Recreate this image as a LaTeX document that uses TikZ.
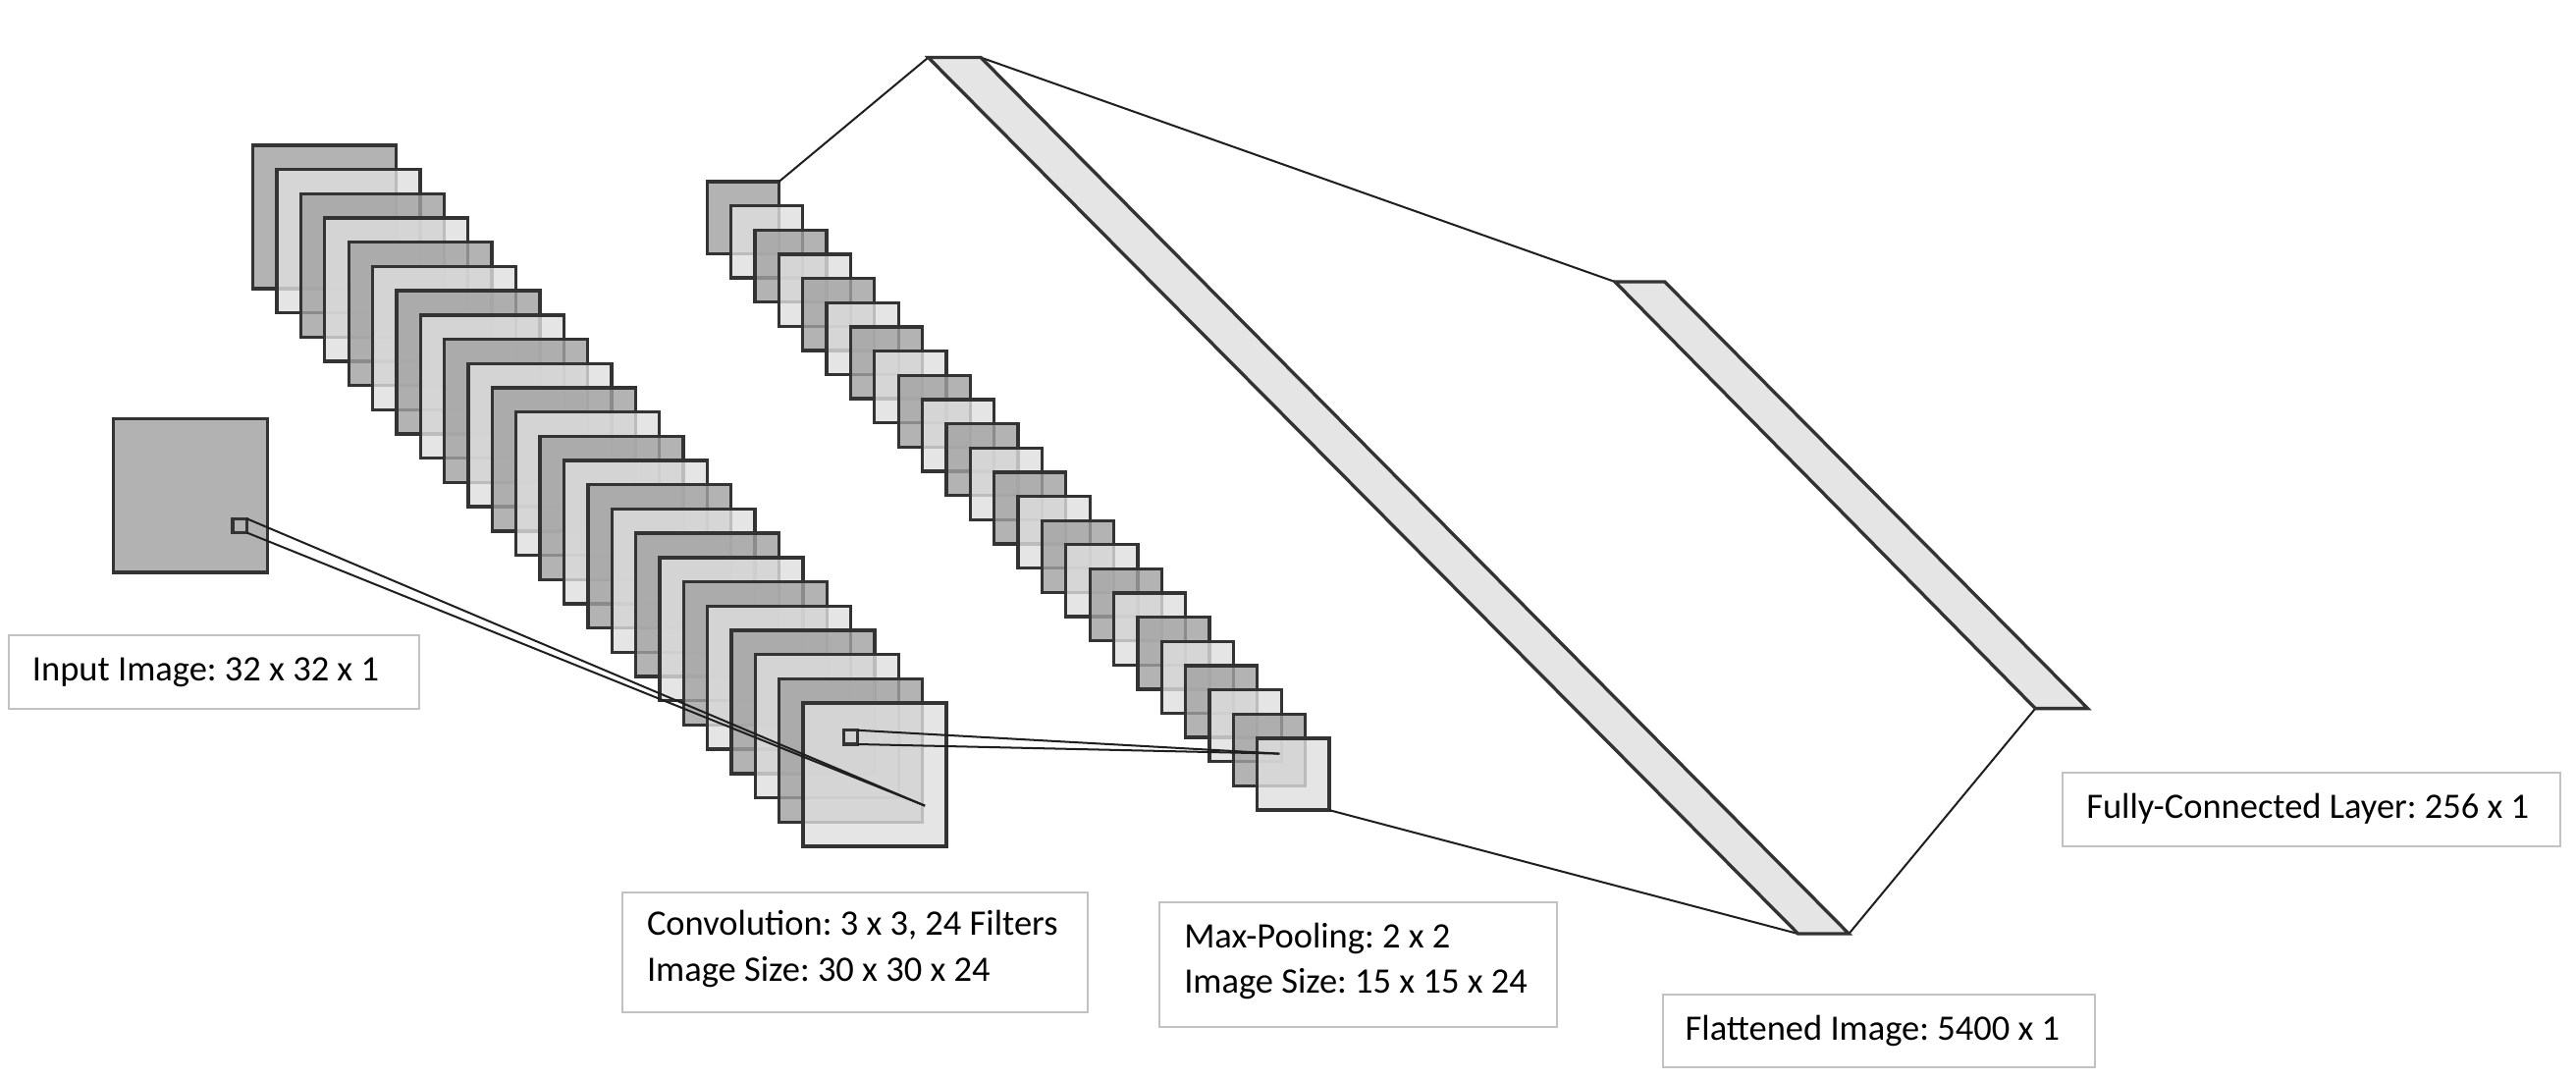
\documentclass[tikz,border=0pt]{standalone}
\usepackage{fontspec}
\setmainfont{Carlito}
\frenchspacing
\definecolor{bord}{gray}{0.2}
\definecolor{sqdark}{gray}{0.63}
\definecolor{sqlight}{gray}{0.875}
\definecolor{inputfill}{gray}{0.70}
\definecolor{barfill}{gray}{0.90}
\definecolor{lblbord}{gray}{0.76}
\definecolor{connc}{gray}{0.12}
\begin{document}
\begin{tikzpicture}[x=0.5pt,y=-0.5pt,
  sqbase/.style={draw=bord, line width=1pt, inner sep=0pt, outer sep=0pt},
  convsq/.style={sqbase, minimum size=43.6pt, fill opacity=0.8},
  poolsq/.style={sqbase, minimum size=21.85pt, fill opacity=0.8},
  inputsq/.style={sqbase, minimum size=46.75pt, fill=inputfill},
  smallsq/.style={sqbase, minimum size=4.25pt},
  conn/.style={draw=connc, line width=0.6pt},
  barshape/.style={draw=bord, line width=1pt, fill=barfill, line join=miter},
  lblbox/.style={draw=lblbord, line width=0.6pt, inner sep=0pt},
  lbltext/.style={anchor=west, inner sep=0pt, align=left,
    font=\fontsize{10.9}{14}\selectfont, text=black}
  ]
\useasboundingbox[fill=white] (0,0) rectangle (1568,657);

% input image
\node[inputsq] (inp) at (115.9,301.7) {};
\node[smallsq] (s1) at (145.9,319.9) {};

% convolution stack
\foreach \i in {1,...,24}{
  \pgfmathsetmacro\cx{197.6+14.56*(\i-1)}
  \pgfmathsetmacro\cy{132.0+14.76*(\i-1)}
  \ifodd\i\def\fc{sqdark}\else\def\fc{sqlight}\fi
  \node[convsq, fill=\fc] (c\i) at (\cx,\cy) {};
}

% max-pooling stack
\foreach \i in {1,...,24}{
  \pgfmathsetmacro\cx{452.2+14.565*(\i-1)}
  \pgfmathsetmacro\cy{132.5+14.726*(\i-1)}
  \ifodd\i\def\fc{sqdark}\else\def\fc{sqlight}\fi
  \node[poolsq, fill=\fc] (p\i) at (\cx,\cy) {};
}

% small square on the last convolution map
\node[smallsq] (s2) at (517.7,448.7) {};

% end points of the receptive-field connectors
\coordinate (e1) at (563,490.4);
\coordinate (e2) at (778.8,458.7);

\draw[conn] (s1.north east) -- (e1);
\draw[conn] (s1.south east) -- (e1);
\draw[conn] (s2.north east) -- (e2);
\draw[conn] (s2.south east) -- (e2);

% flattened bar
\coordinate (ftl) at (565,35);
\coordinate (ftr) at (597,35);
\coordinate (fbr) at (1125.4,568.3);
\coordinate (fbl) at (1094.5,568.3);
% fully-connected bar
\coordinate (gtl) at (983,171.5);
\coordinate (gtr) at (1013.3,171.5);
\coordinate (gbr) at (1270.8,431.2);
\coordinate (gbl) at (1238.9,431.2);

\draw[conn] (p1.north east) -- (ftl);
\draw[conn] (ftr) -- (gtl);
\draw[conn] (p24.south east) -- (fbl);
\draw[conn] (fbr) -- (gbl);

\draw[barshape] (ftl) -- (ftr) -- (fbr) -- (fbl) -- cycle;
\draw[barshape] (gtl) -- (gtr) -- (gbr) -- (gbl) -- cycle;

% labels
\node[lblbox, minimum width=124.8pt, minimum height=22.2pt] (inbox) at (130.2,409) {};
\node[lbltext] (inlbl) at ([xshift=7.25pt]inbox.west) {Input Image: 32 x 32 x 1};

\node[lblbox, minimum width=141.5pt, minimum height=36.5pt] (convbox) at (520.5,579.5) {};
\node[lbltext] (convlbl) at ([xshift=7.5pt,yshift=1pt]convbox.west) {Convolution: 3 x 3, 24 Filters\\Image Size: 30 x 30 x 24};

\node[lblbox, minimum width=120.75pt, minimum height=38pt] (poolbox) at (826.75,587) {};
\node[lbltext] (poollbl) at ([xshift=7.5pt,yshift=1pt]poolbox.west) {Max-Pooling: 2 x 2\\Image Size: 15 x 15 x 24};

\node[lblbox, minimum width=131.5pt, minimum height=22.1pt] (flatbox) at (1143.5,627.5) {};
\node[lbltext] (flatlbl) at ([xshift=7pt]flatbox.west) {Flattened Image: 5400 x 1};

\node[lblbox, minimum width=151.5pt, minimum height=22.5pt] (fcbox) at (1406.7,492.5) {};
\node[lbltext] (fclbl) at ([xshift=7.5pt]fcbox.west) {Fully-Connected Layer: 256 x 1};
\end{tikzpicture}
\end{document}
